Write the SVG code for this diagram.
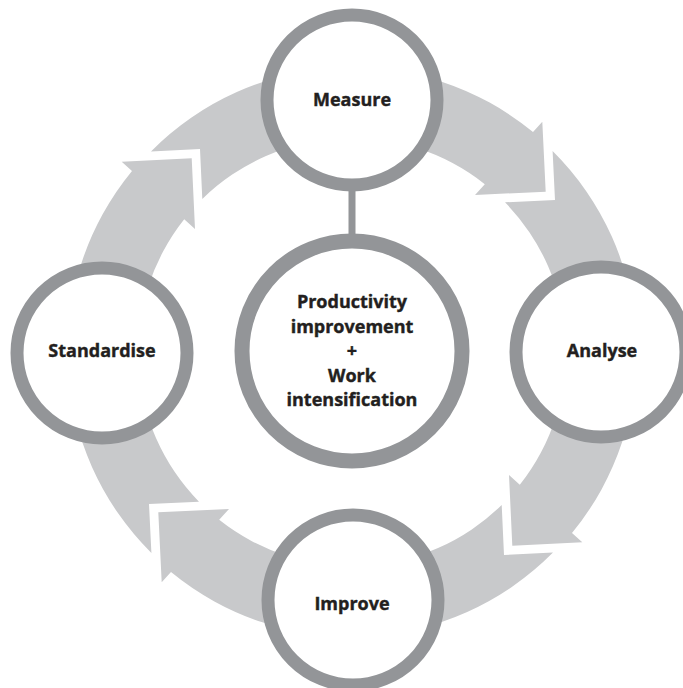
<svg xmlns="http://www.w3.org/2000/svg" width="683" height="688" viewBox="0 0 683 688">
<style>
.arrow{fill:#c8c9cb;stroke:none}
.node{fill:#ffffff;stroke:#939598;stroke-width:13}
.hub{fill:#ffffff;stroke:#939598;stroke-width:15}
.lbl{font-family:"Open Sans","Noto Sans","Liberation Sans",sans-serif;font-weight:700;font-size:18px;fill:#231f20;stroke:#231f20;stroke-width:0.4;text-anchor:middle}
</style>
<defs>
<path id="arc" d="M 552.6 151 A 284 284 0 0 1 572 533 L 582.3 542.3 L 512.3 545.7 L 509 475 L 519.8 484.8 A 214 214 0 0 0 505 202.3 L 555 200 Z"/>
</defs>
<rect width="683" height="688" fill="#ffffff"/>
<g id="connectors">
<use href="#arc" class="arrow"/>
<use href="#arc" class="arrow" transform="rotate(90 352 352)"/>
<use href="#arc" class="arrow" transform="rotate(180 352 352)"/>
<use href="#arc" class="arrow" transform="rotate(270 352 352)"/>
<rect x="348.5" y="188" width="7" height="50" fill="#939598"/>
</g>
<g id="measure">
<circle class="node" cx="352" cy="100" r="85"/>
<text class="lbl" x="352" y="106">Measure</text>
</g>
<g id="analyse">
<circle class="node" cx="601" cy="352" r="85"/>
<text class="lbl" x="602" y="357">Analyse</text>
</g>
<g id="improve">
<circle class="node" cx="353" cy="600" r="85"/>
<text class="lbl" x="352" y="610">Improve</text>
</g>
<g id="standardise">
<circle class="node" cx="102" cy="353" r="85"/>
<text class="lbl" x="102" y="357">Standardise</text>
</g>
<g id="hub">
<circle class="hub" cx="352" cy="351" r="110"/>
<text class="lbl" x="352" y="308">Productivity</text>
<text class="lbl" x="352" y="332.5">improvement</text>
<text class="lbl" x="352" y="357">+</text>
<text class="lbl" x="352" y="381.5">Work</text>
<text class="lbl" x="352" y="405.5">intensification</text>
</g>
</svg>
